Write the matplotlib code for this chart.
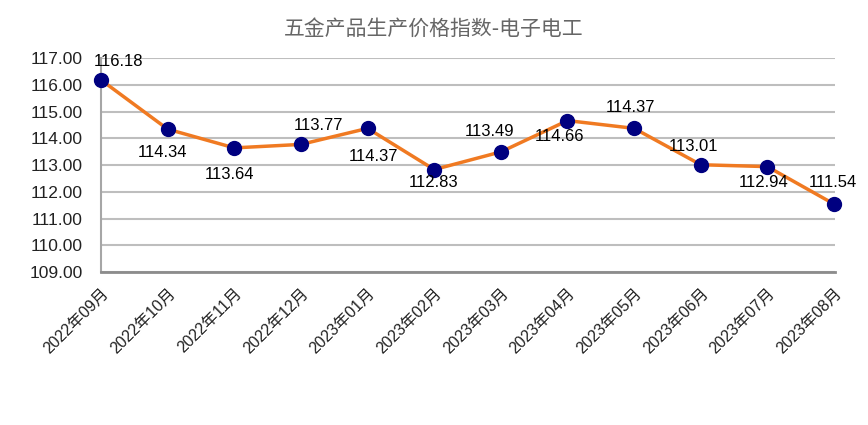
"""
五金产品生产价格指数-电子电工 line chart
"""

import matplotlib as mpl
import matplotlib.pyplot as plt

mpl.rcParams['font.family'] = ['Liberation Sans', 'Noto Sans CJK SC', 'DejaVu Sans']

months = ['2022年09月', '2022年10月', '2022年11月', '2022年12月', '2023年01月', '2023年02月',
          '2023年03月', '2023年04月', '2023年05月', '2023年06月', '2023年07月', '2023年08月']
index_values = [116.18, 114.34, 113.64, 113.77, 114.37, 112.83,
                113.49, 114.66, 114.37, 113.01, 112.94, 111.54]
y_ticks = [109, 110, 111, 112, 113, 114, 115, 116, 117]

# label offsets in pixels (dx, dy)
label_offsets = [(17, 18), (-5, -23), (-5, -27), (18, 19), (6, -28), (-1, -13),
                 (-11, 20), (-8, -16), (-4, 21), (-7, 18), (-4, -16), (-1, 22)]

if __name__ == "__main__":
    fig = plt.figure(figsize=(8.68, 4.25), dpi=100)
    ax = fig.add_axes([0.1164, 0.36, 0.846, 0.5035])

    x = list(range(len(months)))
    ax.plot(x, index_values, color='#F07A22', linewidth=2.5, zorder=3,
            marker='o', markersize=10, markerfacecolor='#000080',
            markeredgecolor='#000080', clip_on=False)

    for xi, v, (dx, dy) in zip(x, index_values, label_offsets):
        ax.annotate(f'{v:.2f}', (xi, v), xytext=(dx, dy), textcoords='offset pixels',
                    ha='center', va='center', fontsize=12, color='black', zorder=4)

    ax.set_xlim(0, len(months) - 1 + 0.02)
    ax.set_ylim(109, 117)
    ax.set_yticks(y_ticks)
    ax.set_yticklabels([f'{t:.2f}' for t in y_ticks], fontsize=12.5, color='#222222')
    ax.set_xticks(x)
    ax.set_xticklabels(months, rotation=45, ha='right', rotation_mode='anchor',
                       fontsize=11.5, color='#222222')
    ax.tick_params(axis='x', length=0, pad=10)
    ax.tick_params(axis='y', length=0, pad=13)

    ax.grid(True, axis='y', color='#BEBEBE', linewidth=1.5, zorder=0)
    ax.set_axisbelow(True)
    for side in ['top', 'right']:
        ax.spines[side].set_visible(False)
    ax.spines['left'].set_color('#A6A6A6')
    ax.spines['left'].set_linewidth(1.5)
    ax.spines['bottom'].set_color('#8C8C8C')
    ax.spines['bottom'].set_linewidth(2)

    fig.text(0.5, 0.932, '五金产品生产价格指数-电子电工', ha='center', va='center',
             fontsize=15, color='#666666', family=['Noto Sans CJK SC', 'DejaVu Sans'])

    fig.savefig('out.png', dpi=100)
